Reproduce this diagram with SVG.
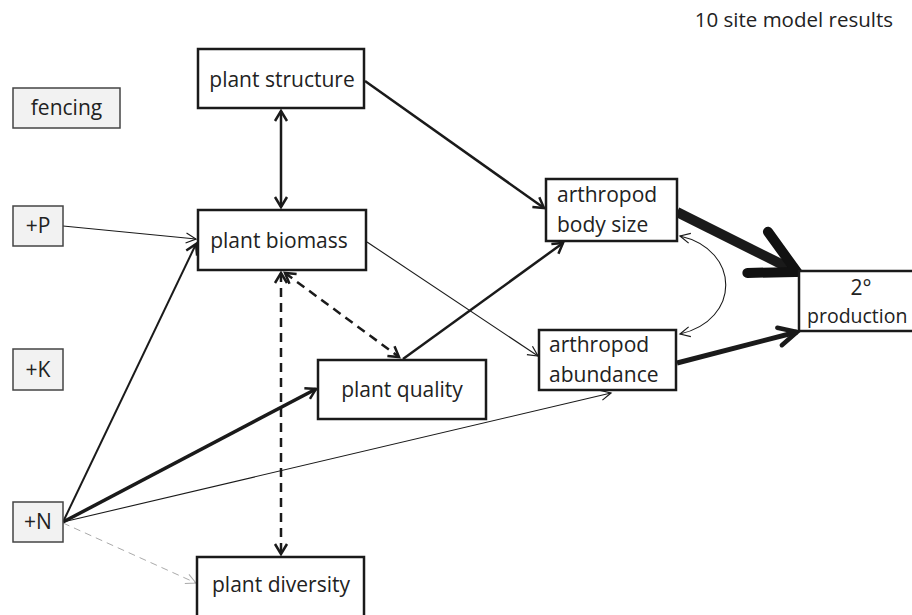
<svg xmlns="http://www.w3.org/2000/svg" width="912" height="615" viewBox="0 0 912 615">
<style>
  .t { font-family: "Open Sans", "Noto Sans", sans-serif; font-size: 21px; fill: #222; }
  .box { fill: #fff; stroke: #1a1a1a; stroke-width: 2.5; }
  .tr { fill: #f2f2f2; stroke: #444; stroke-width: 1.5; }
  .c { fill: none; stroke: #1a1a1a; }
</style>
<defs>
  <marker id="h1" markerUnits="userSpaceOnUse" orient="auto-start-reverse" viewBox="-12 -8 14 16" markerWidth="14" markerHeight="16" refX="0" refY="0">
    <path d="M-10,-5 L0,0 L-10,5" fill="none" stroke="#1a1a1a" stroke-width="1.2"/>
  </marker>
  <marker id="h1g" markerUnits="userSpaceOnUse" orient="auto" viewBox="-12 -8 14 16" markerWidth="14" markerHeight="16" refX="0" refY="0">
    <path d="M-10,-5 L0,0 L-10,5" fill="none" stroke="#aaa" stroke-width="1"/>
  </marker>
  <marker id="h2" markerUnits="userSpaceOnUse" orient="auto-start-reverse" viewBox="-14 -9 17 18" markerWidth="17" markerHeight="18" refX="0" refY="0">
    <path d="M-10,-6 L0,0 L-10,6" fill="none" stroke="#1a1a1a" stroke-width="2.5"/>
  </marker>
  <marker id="h3" markerUnits="userSpaceOnUse" orient="auto" viewBox="-22 -14 28 28" markerWidth="28" markerHeight="28" refX="0" refY="0">
    <path d="M-18,-9 L0,0 L-18,9" fill="none" stroke="#1a1a1a" stroke-width="4.5" stroke-linecap="round"/>
  </marker>
  <marker id="h4" markerUnits="userSpaceOnUse" orient="auto" viewBox="-54 -34 64 68" markerWidth="64" markerHeight="68" refX="0" refY="0">
    <path d="M-44,-23 L0,0 L-44,23" fill="none" stroke="#111" stroke-width="10" stroke-linecap="round"/>
  </marker>
</defs>
<rect width="912" height="615" fill="#fff"/>
<text class="t" x="893" y="27" text-anchor="end" style="font-size:20.5px">10 site model results</text>

<g id="connectors">
  <line class="c" x1="365" y1="81" x2="544" y2="208" stroke-width="2.5" marker-end="url(#h2)"/>
  <line class="c" x1="281" y1="111" x2="281" y2="207" stroke-width="2.5" marker-start="url(#h2)" marker-end="url(#h2)"/>
  <line class="c" x1="63" y1="226" x2="196" y2="239" stroke-width="1.2" marker-end="url(#h1)"/>
  <line class="c" x1="63" y1="522" x2="196" y2="244" stroke-width="2" marker-end="url(#h2)"/>
  <line class="c" x1="63" y1="522" x2="316" y2="389" stroke-width="3.5" marker-end="url(#h2)"/>
  <line class="c" x1="63" y1="522" x2="611" y2="393" stroke-width="1.1" marker-end="url(#h1)"/>
  <line x1="63" y1="523" x2="196" y2="583" fill="none" stroke="#aaa" stroke-width="1" stroke-dasharray="7 5" marker-end="url(#h1g)"/>
  <line class="c" x1="367" y1="242" x2="538" y2="356" stroke-width="1.1" marker-end="url(#h1)"/>
  <line class="c" x1="281" y1="273" x2="281" y2="554" stroke-width="2.5" stroke-dasharray="9 6" marker-start="url(#h2)" marker-end="url(#h2)"/>
  <line class="c" x1="285" y1="273" x2="399" y2="357" stroke-width="2.5" stroke-dasharray="9 6" marker-start="url(#h2)" marker-end="url(#h2)"/>
  <line class="c" x1="403" y1="359" x2="563" y2="243" stroke-width="2.5" marker-end="url(#h2)"/>
  <line class="c" x1="677" y1="212" x2="797" y2="272" stroke-width="10" marker-end="url(#h4)"/>
  <line class="c" x1="677" y1="363" x2="797" y2="332" stroke-width="5" marker-end="url(#h3)"/>
  <path class="c" d="M680,236 C741,250 741,320 680,334" stroke-width="1.1" marker-start="url(#h1)" marker-end="url(#h1)"/>
</g>

<g id="fencing"><rect class="tr" x="13" y="88" width="107" height="40"/><text class="t" x="66.5" y="115" text-anchor="middle">fencing</text></g>
<g id="plusP"><rect class="tr" x="13" y="206" width="50" height="40"/><text class="t" x="38" y="233" text-anchor="middle">+P</text></g>
<g id="plusK"><rect class="tr" x="13" y="349" width="50" height="41"/><text class="t" x="38" y="377" text-anchor="middle">+K</text></g>
<g id="plusN"><rect class="tr" x="13" y="502" width="50" height="40"/><text class="t" x="38" y="529" text-anchor="middle">+N</text></g>

<g id="plant-structure"><rect class="box" x="198" y="49" width="166" height="59"/><text class="t" x="282" y="87" text-anchor="middle">plant structure</text></g>
<g id="plant-biomass"><rect class="box" x="198" y="210" width="168" height="60"/><text class="t" x="279" y="248" text-anchor="middle">plant biomass</text></g>
<g id="plant-quality"><rect class="box" x="318" y="360" width="168" height="59"/><text class="t" x="402" y="397" text-anchor="middle">plant quality</text></g>
<g id="plant-diversity"><rect class="box" x="197" y="557" width="167" height="62"/><text class="t" x="281" y="592" text-anchor="middle">plant diversity</text></g>
<g id="arthropod-body-size"><rect class="box" x="546" y="179" width="131" height="62"/><text class="t" x="557" y="202">arthropod</text><text class="t" x="557" y="232">body size</text></g>
<g id="arthropod-abundance"><rect class="box" x="539" y="330" width="137" height="60"/><text class="t" x="549" y="352">arthropod</text><text class="t" x="549" y="382">abundance</text></g>
<g id="secondary-production"><rect class="box" x="799" y="271" width="130" height="60"/><text class="t" x="861" y="295" text-anchor="middle">2°</text><text class="t" x="807" y="323" style="font-size:19.5px">production</text></g>
</svg>
